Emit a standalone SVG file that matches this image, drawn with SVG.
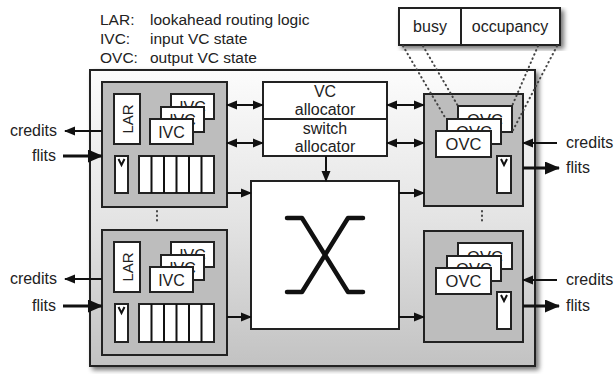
<svg xmlns="http://www.w3.org/2000/svg" width="615" height="374" viewBox="0 0 615 374">
<defs>
  <linearGradient id="outerGrad" x1="0" y1="0" x2="0" y2="1">
    <stop offset="0" stop-color="#fcfcfc"/>
    <stop offset="0.5" stop-color="#e4e4e4"/>
    <stop offset="1" stop-color="#c2c2c2"/>
  </linearGradient>
  <filter id="shadow" x="-10%" y="-10%" width="125%" height="125%">
    <feGaussianBlur in="SourceAlpha" stdDeviation="2.5"/>
    <feOffset dx="3" dy="3" result="b"/>
    <feComponentTransfer><feFuncA type="linear" slope="0.55"/></feComponentTransfer>
    <feMerge><feMergeNode/><feMergeNode in="SourceGraphic"/></feMerge>
  </filter>
  <marker id="ah" markerUnits="userSpaceOnUse" markerWidth="11" markerHeight="10" refX="10" refY="5" orient="auto-start-reverse">
    <path d="M0,0.5 L11,5 L0,9.5 z" fill="#111"/>
  </marker>
  <marker id="ahBig" markerUnits="userSpaceOnUse" markerWidth="15" markerHeight="13" refX="14" refY="6.5" orient="auto">
    <path d="M0,0 L15,6.5 L0,13 z" fill="#111"/>
  </marker>
</defs>
<style>
  text { font-family: "Liberation Sans", Arial, sans-serif; fill: #222; }
  .lg { font-size: 15.5px; }
  .lb { font-size: 16px; }
  .bx { fill: #fff; stroke: #222; stroke-width: 2; }
  .unit { fill: #bdbdbd; stroke: #222; stroke-width: 2; }
  .ln { stroke: #111; stroke-width: 2; fill: none; }
  .thick { stroke: #111; stroke-width: 3; fill: none; }
  .dot { stroke: #444; stroke-width: 2; stroke-dasharray: 0.5 4; stroke-linecap: round; fill: none; }
  .mid { text-anchor: middle; }
  .end { text-anchor: end; }
</style>

<g id="legend">
  <text class="lg" x="100" y="25">LAR:</text><text class="lg" x="150" y="25">lookahead routing logic</text>
  <text class="lg" x="100" y="44">IVC:</text><text class="lg" x="150" y="44">input VC state</text>
  <text class="lg" x="100" y="63">OVC:</text><text class="lg" x="150" y="63">output VC state</text>
</g>

<g id="router">
  <rect x="90" y="70" width="445" height="296" fill="url(#outerGrad)" stroke="#222" stroke-width="2" filter="url(#shadow)"/>
</g>

<g id="state-fields">
  <rect x="399" y="8" width="161" height="37" class="bx" filter="url(#shadow)"/>
  <line x1="461" y1="8" x2="461" y2="45" stroke="#222" stroke-width="2"/>
  <text class="lb mid" x="430" y="32">busy</text>
  <text class="lb mid" x="510" y="32">occupancy</text>
</g>

<g id="input-unit-top">
  <rect x="102" y="82" width="125" height="125" class="unit"/>
  <rect x="114" y="94" width="26" height="50" class="bx"/>
  <text class="lb mid" transform="translate(133,119) rotate(-90)" style="font-size:15px">LAR</text>
  <rect x="171" y="94" width="43" height="25" class="bx"/><text class="lb mid" x="192.5" y="113">IVC</text>
  <rect x="161" y="107" width="43" height="25" class="bx"/><text class="lb mid" x="182.5" y="126">IVC</text>
  <rect x="150" y="119" width="43" height="25" class="bx"/><text class="lb mid" x="171.5" y="138">IVC</text>
  <rect x="115" y="156" width="13" height="37" class="bx"/>
  <path d="M118.5,159 L121.5,165 L124.5,159" class="ln" stroke-width="1.5"/>
  <rect x="139" y="156" width="75" height="37" class="bx"/>
  <path d="M151.5,156 V193 M164,156 V193 M176.5,156 V193 M189,156 V193 M201.5,156 V193" class="ln"/>
</g>

<g id="input-unit-bottom">
  <rect x="102" y="230" width="125" height="125" class="unit"/>
  <rect x="114" y="242" width="26" height="50" class="bx"/>
  <text class="lb mid" transform="translate(133,267) rotate(-90)" style="font-size:15px">LAR</text>
  <rect x="171" y="242" width="43" height="25" class="bx"/><text class="lb mid" x="192.5" y="261">IVC</text>
  <rect x="161" y="255" width="43" height="25" class="bx"/><text class="lb mid" x="182.5" y="274">IVC</text>
  <rect x="150" y="267" width="43" height="25" class="bx"/><text class="lb mid" x="171.5" y="286">IVC</text>
  <rect x="115" y="304" width="13" height="38" class="bx"/>
  <path d="M118.5,307 L121.5,313 L124.5,307" class="ln" stroke-width="1.5"/>
  <rect x="139" y="304" width="75" height="38" class="bx"/>
  <path d="M151.5,304 V342 M164,304 V342 M176.5,304 V342 M189,304 V342 M201.5,304 V342" class="ln"/>
</g>

<g id="allocators">
  <rect x="263" y="82" width="124" height="74" class="bx"/>
  <line x1="263" y1="119" x2="387" y2="119" stroke="#222" stroke-width="2"/>
  <text class="lb mid" x="325" y="97">VC</text>
  <text class="lb mid" x="325" y="115">allocator</text>
  <text class="lb mid" x="325" y="134">switch</text>
  <text class="lb mid" x="325" y="152">allocator</text>
</g>

<g id="crossbar">
  <rect x="251" y="181" width="148" height="148" class="bx"/>
  <path d="M287,218 L302,218 L348,292 L363,292 M363,218 L348,218 L302,292 L287,292" stroke="#111" stroke-width="4.5" fill="none" stroke-linecap="round" stroke-linejoin="round"/>
</g>

<g id="output-unit-top">
  <rect x="424" y="94" width="99" height="112" class="unit"/>
  <rect x="458" y="106" width="54" height="26" class="bx"/><text class="lb mid" x="485" y="126" style="font-size:16.5px">OVC</text>
  <rect x="447" y="119" width="54" height="25" class="bx"/><text class="lb mid" x="474" y="138" style="font-size:16.5px">OVC</text>
  <rect x="436" y="131" width="55" height="26" class="bx"/><text class="lb mid" x="463.5" y="150" style="font-size:16.5px">OVC</text>
  <rect x="497" y="156" width="14" height="37" class="bx"/>
  <path d="M501,159 L504,165 L507,159" class="ln" stroke-width="1.5"/>
</g>

<g id="output-unit-bottom">
  <rect x="424" y="231" width="99" height="111" class="unit"/>
  <rect x="458" y="243" width="54" height="26" class="bx"/><text class="lb mid" x="485" y="263" style="font-size:16.5px">OVC</text>
  <rect x="447" y="256" width="54" height="25" class="bx"/><text class="lb mid" x="474" y="275" style="font-size:16.5px">OVC</text>
  <rect x="436" y="268" width="55" height="26" class="bx"/><text class="lb mid" x="463.5" y="287" style="font-size:16.5px">OVC</text>
  <rect x="497" y="292" width="14" height="37" class="bx"/>
  <path d="M501,295 L504,301 L507,295" class="ln" stroke-width="1.5"/>
</g>

<g id="labels">
  <text class="lb end" x="57" y="136">credits</text>
  <text class="lb end" x="56" y="161">flits</text>
  <text class="lb end" x="57" y="284">credits</text>
  <text class="lb end" x="56" y="311">flits</text>
  <text class="lb" x="566" y="148">credits</text>
  <text class="lb" x="566" y="173">flits</text>
  <text class="lb" x="566" y="285">credits</text>
  <text class="lb" x="566" y="311">flits</text>
</g>

<g id="connectors">
  <line x1="102" y1="131" x2="65" y2="131" class="ln" marker-end="url(#ah)"/>
  <line x1="63" y1="156" x2="102" y2="156" class="thick" marker-end="url(#ahBig)"/>
  <line x1="102" y1="279" x2="65" y2="279" class="ln" marker-end="url(#ah)"/>
  <line x1="63" y1="306" x2="102" y2="306" class="thick" marker-end="url(#ahBig)"/>
  <line x1="557" y1="143" x2="523" y2="143" class="ln" marker-end="url(#ah)"/>
  <line x1="523" y1="168" x2="559" y2="168" class="thick" marker-end="url(#ahBig)"/>
  <line x1="557" y1="280" x2="523" y2="280" class="ln" marker-end="url(#ah)"/>
  <line x1="523" y1="306" x2="559" y2="306" class="thick" marker-end="url(#ahBig)"/>

  <line x1="227" y1="105" x2="263" y2="105" class="ln" marker-start="url(#ah)" marker-end="url(#ah)"/>
  <line x1="227" y1="143" x2="263" y2="143" class="ln" marker-start="url(#ah)" marker-end="url(#ah)"/>
  <line x1="387" y1="105" x2="424" y2="105" class="ln" marker-start="url(#ah)" marker-end="url(#ah)"/>
  <line x1="387" y1="143" x2="424" y2="143" class="ln" marker-start="url(#ah)" marker-end="url(#ah)"/>
  <line x1="326" y1="156" x2="326" y2="181" class="ln" marker-end="url(#ah)"/>

  <line x1="227" y1="193" x2="251" y2="193" class="ln" marker-end="url(#ah)"/>
  <line x1="227" y1="317" x2="251" y2="317" class="ln" marker-end="url(#ah)"/>
  <line x1="399" y1="193" x2="424" y2="193" class="ln" marker-end="url(#ah)"/>
  <line x1="399" y1="317" x2="424" y2="317" class="ln" marker-end="url(#ah)"/>

  <path d="M403,46 L446,119 M423,46 L458,106 M538,46 L512,106 M557,46 L512,132" class="dot"/>
  <path d="M157,211 V222 M482,211 V222" class="dot" stroke-dasharray="0.5 5"/>
</g>
</svg>
